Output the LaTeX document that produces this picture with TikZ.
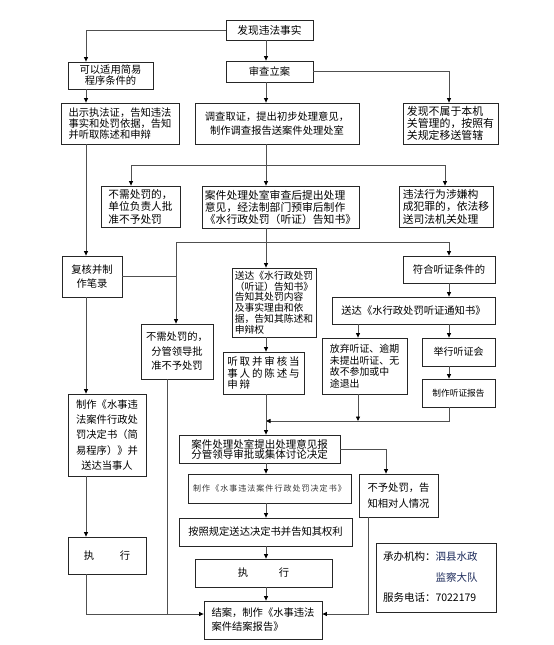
\documentclass[tikz,border=0pt]{standalone}
\usepackage{fontspec}
\setmainfont{Noto Sans CJK SC}
\usetikzlibrary{arrows.meta}
\definecolor{lnc}{HTML}{505050}
\definecolor{navy}{HTML}{1C2A5A}
\begin{document}
\begin{tikzpicture}[x=1pt,y=-1pt,
 box/.style={draw=black!85, line width=0.8pt, inner sep=1pt, align=center},
 fs/.style={font=\fontsize{10.3}{#1}\selectfont},
 fz/.style 2 args={font=\fontsize{#1}{#2}\selectfont},
 arr/.style={draw=lnc, line width=0.8pt, -{Triangle[length=4.5pt,width=4pt,color=black]}},
 lnk/.style={draw=lnc, line width=0.8pt},
]
\useasboundingbox (0,0) rectangle (554,645);
% column coordinates
\coordinate (mx) at (266,0);
\coordinate (lx) at (86,0);
\coordinate (c131) at (131,0);
\coordinate (c445) at (445,0);
\coordinate (c449) at (449,0);
\coordinate (c358) at (358,0);
\coordinate (c386) at (386,0);
\coordinate (c368) at (368,0);
\coordinate (c167) at (167,0);

% nodes
\node[box, minimum width=87pt, minimum height=20pt, fz={10.7}{12}] (top) at (269.5,30) {发现违法事实};
\node[box, minimum width=85pt, minimum height=27pt, fs=11] (jianyi) at (110.5,75.5) {可以适用简易\\程序条件的};
\node[box, minimum width=87pt, minimum height=21pt, fs=12] (lian) at (269.5,71.5) {审查立案};
\node[box, minimum width=118pt, minimum height=41pt, fs=11, align=left] (chushi) at (120,123.5) {出示执法证，告知违法\\事实和处罚依据，告知\\并听取陈述和申辩};
\node[box, minimum width=164pt, minimum height=41pt, fs=14] (diaocha) at (277,123.5) {调查取证，提出初步处理意见，\\制作调查报告送案件处理处室};
\node[box, minimum width=95pt, minimum height=41pt, fz={10.9}{12}, align=left] (bushu) at (450.5,123.5) {发现不属于本机\\关管理的，按照有\\关规定移送管辖};
\node[box, minimum width=79pt, minimum height=41pt, fz={10.7}{12.5}, align=left] (bx1) at (140.5,206.5) {不需处罚的，\\单位负责人批\\准不予处罚};
\node[box, minimum width=157pt, minimum height=42pt, fz={10.8}{12}, align=left] (aj1) at (280.5,207) {案件处理处室审查后提出处理\\意见，经法制部门预审后制作\\《水行政处罚（听证）告知书》};
\node[box, minimum width=94pt, minimum height=41pt, fz={10.8}{12.5}, align=left] (fanzui) at (446,206.5) {违法行为涉嫌构\\成犯罪的，依法移\\送司法机关处理};
\node[box, minimum width=60pt, minimum height=41pt, fs=14] (fuhe) at (92,276.5) {复核并制\\作笔录};
\node[box, minimum width=92pt, minimum height=27pt, fs=12] (fht) at (449,269.5) {符合听证条件的};
\node[box, minimum width=84pt, minimum height=69pt, fz={9.8}{10.8}, align=left] (sd1) at (274,302.5) {送达《水行政处罚\\（听证）告知书》\\告知其处罚内容\\及事实理由和依\\据，告知其陈述和\\申辩权};
\node[box, minimum width=163pt, minimum height=27pt, fs=12] (tz) at (413.5,310.5) {送达《水行政处罚听证通知书》};
\node[box, minimum width=72pt, minimum height=55pt, fs=14.5] (bx2) at (177,351.5) {不需处罚的，\\分管领导批\\准不予处罚};
\node[box, minimum width=85pt, minimum height=56pt, fz={9.9}{11.5}, align=left] (fq) at (364.5,366) {放弃听证、逾期\\未提出听证、无\\故不参加或中\\途退出};
\node[box, minimum width=73pt, minimum height=28pt, fz={10}{12}] (jx) at (458.5,352) {举行听证会};
\node[box, minimum width=73pt, minimum height=28pt, fz={8.7}{10}] (bg) at (458.5,393) {制作听证报告};
\node[box, minimum width=81pt, minimum height=42pt, font=\fontsize{10.5}{11.5}\selectfont\addfontfeature{LetterSpace=18}, align=left] (tq) at (263.5,373) {听取并审核当\\事人的陈述与\\申辩};
\node[box, minimum width=78pt, minimum height=82pt, fs=15.2] (jyjd) at (107,435) {制作《水事违\\法案件行政处\\罚决定书（简\\易程序）》并\\送达当事人};
\node[box, minimum width=161pt, minimum height=28pt, fz={10.5}{10}] (tc) at (259.5,449) {案件处理处室提出处理意见报\\分管领导审批或集体讨论决定};
\node[box, minimum width=163pt, minimum height=29pt, font=\fontsize{8}{9}\selectfont\addfontfeature{LetterSpace=13}, text=black!80] (zz) at (269.5,488.5) {制作《水事违法案件行政处罚决定书》};
\node[box, minimum width=79pt, minimum height=43pt, fs=16] (by) at (398.5,495.5) {不予处罚，告\\知相对人情况};
\node[box, minimum width=173pt, minimum height=28pt, fs=12] (az) at (265.5,532) {按照规定送达决定书并告知其权利};
\node[box, minimum width=137pt, minimum height=28pt, fs=12] (zx2) at (263.5,573) {执\hspace{3em}行};
\node[box, minimum width=78pt, minimum height=37pt, fs=12] (zx1) at (107,555.5) {执\hspace{2.5em}行};
\node[box, minimum width=118pt, minimum height=38pt, fs=14, align=left] (jiean) at (263,620) {结案，制作《水事违法\\案件结案报告》};
\node[box, text width=106pt, inner sep=7pt, minimum height=69pt, align=left, font=\fontsize{10.5}{20.5}\selectfont] (info) at (436,577.5) {承办机构：{\color{navy}泗县水政}\\\hspace*{5em}{\color{navy}监察大队}\\服务电话：7022179};

\coordinate (jw) at ([yshift=6pt]jiean.west);
\coordinate (je) at ([yshift=6pt]jiean.east);
\coordinate (j1) at (266,165);
\coordinate (j2) at (176,242);
\coordinate (j3) at (266,421);

% connectors
\draw[arr] (top.south -| mx) -- (lian.north -| mx);
\draw[arr] (top.west) -| (jianyi.north -| lx);
\draw[arr] (jianyi.south -| lx) -- (chushi.north -| lx);
\draw[arr] (chushi.south -| lx) -- (fuhe.north -| lx);
\draw[arr] (fuhe.south -| lx) -- (jyjd.north -| lx);
\draw[arr] (jyjd.south -| lx) -- (zx1.north -| lx);
\draw[arr] (zx1.south -| lx) |- (jw);
\draw[lnk] (bx2.south -| c167) -- (c167 |- jw);
\draw[arr] (lian.east) -| (bushu.north -| c449);
\draw[arr] (lian.south -| mx) -- (diaocha.north -| mx);
\draw[arr] (diaocha.south -| mx) -- (aj1.north -| mx);
\draw[arr] (j1) -| (bx1.north -| c131);
\draw[arr] (j1) -| (fanzui.north -| c445);
\draw[arr] (aj1.south -| mx) -- (sd1.north -| mx);
\draw[arr] (j2) -| (fht.north -| c449);
\draw[arr] (j2) -- (bx2.north -| j2);
\draw[lnk] (fuhe.east) -- (fuhe.east -| j2);
\draw[arr] (sd1.south -| mx) -- (tq.north -| mx);
\draw[arr] (fht.south -| c449) -- (tz.north -| c449);
\draw[arr] (tz.south -| c358) -- (fq.north -| c358);
\draw[arr] (tz.south -| c449) -- (jx.north -| c449);
\draw[arr] (jx.south -| c449) -- (bg.north -| c449);
\draw[arr] (bg.south -| c449) |- (j3);
\draw[arr] (fq.south -| c358) -- (c358 |- j3);
\draw[arr] (tq.south -| mx) -- (tc.north -| mx);
\draw[arr] (tc.east) -| (by.north -| c386);
\draw[arr] (tc.south -| mx) -- (zz.north -| mx);
\draw[arr] (zz.south -| mx) -- (az.north -| mx);
\draw[arr] (az.south -| mx) -- (zx2.north -| mx);
\draw[arr] (zx2.south -| mx) -- (jiean.north -| mx);
\draw[arr] (by.south -| c368) |- (je);
\end{tikzpicture}
\end{document}
